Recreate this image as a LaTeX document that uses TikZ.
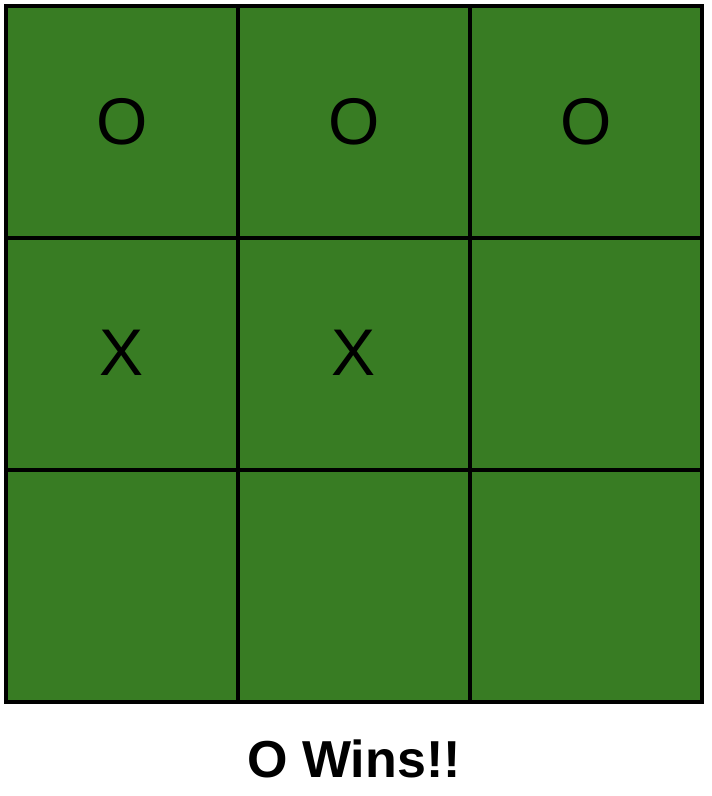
\documentclass[tikz,border=0pt]{standalone}
\usepackage{fontspec}
\setmainfont{Liberation Sans}
\definecolor{board}{HTML}{387C23}
\begin{document}
\begin{tikzpicture}[x=1pt,y=-1pt,
  cell/.style={draw=black,line width=3.6pt,fill=board,minimum size=232pt,inner sep=0pt,outer sep=0pt,anchor=north west,font=\fontsize{66}{66}\selectfont},
  caption/.style={font=\bfseries\fontsize{52}{52}\selectfont}]
\useasboundingbox (0,0) rectangle (712,796);
\node[cell] (c11) at (6,6) {\raisebox{2pt}{O}};
\node[cell] (c12) at (238,6) {\raisebox{2pt}{O}};
\node[cell] (c13) at (470,6) {\raisebox{2pt}{O}};
\node[cell] (c21) at (6,238) {\raisebox{2pt}{X}};
\node[cell] (c22) at (238,238) {\raisebox{2pt}{X}};
\node[cell] (c23) at (470,238) {};
\node[cell] (c31) at (6,470) {};
\node[cell] (c32) at (238,470) {};
\node[cell] (c33) at (470,470) {};
\node[caption] (msg) at (354,759) {O Wins!!};
\end{tikzpicture}
\end{document}
